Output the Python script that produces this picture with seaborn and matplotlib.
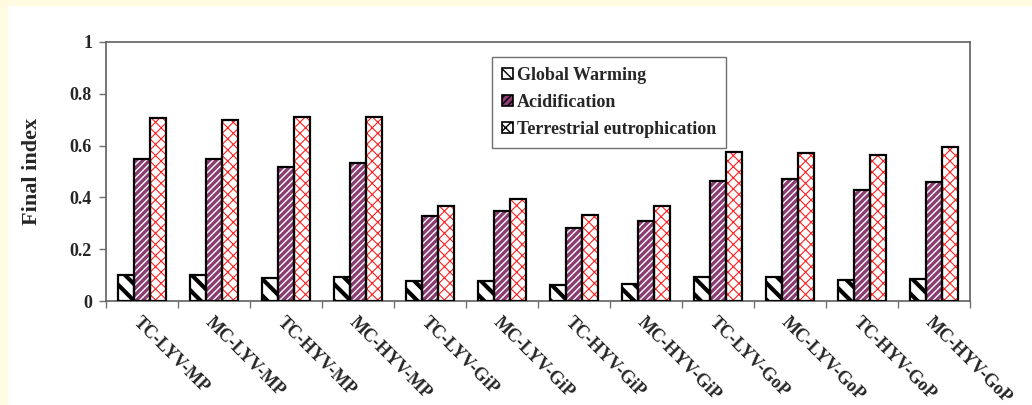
import numpy as np
import pandas as pd
import matplotlib
matplotlib.use("Agg")
import matplotlib.pyplot as plt
from matplotlib.patches import Patch, Rectangle
import seaborn as sns

# Chart data
scenarios = ["TC-LYV-MP", "MC-LYV-MP", "TC-HYV-MP", "MC-HYV-MP",
             "TC-LYV-GiP", "MC-LYV-GiP", "TC-HYV-GiP", "MC-HYV-GiP",
             "TC-LYV-GoP", "MC-LYV-GoP", "TC-HYV-GoP", "MC-HYV-GoP"]
series = ["Global Warming", "Acidification", "Terrestrial eutrophication"]
global_warming = [0.102, 0.102, 0.090, 0.094, 0.076, 0.078, 0.062, 0.066, 0.094, 0.094, 0.081, 0.085]
acidification = [0.547, 0.547, 0.519, 0.532, 0.328, 0.349, 0.282, 0.310, 0.465, 0.470, 0.429, 0.458]
eutrophication = [0.707, 0.699, 0.709, 0.712, 0.368, 0.392, 0.333, 0.367, 0.577, 0.570, 0.564, 0.593]
y_ticks = [0, 0.2, 0.4, 0.6, 0.8, 1]
y_tick_labels = ["0", "0.2", "0.4", "0.6", "0.8", "1"]

df = pd.DataFrame({
    "Scenario": scenarios * 3,
    "Category": [series[0]] * 12 + [series[1]] * 12 + [series[2]] * 12,
    "Value": global_warming + acidification + eutrophication,
})

# look of each series: face, hatch colour, hatch, hatch width
styles = {
    "Global Warming": ("white", "black", "\\\\", 3.0),
    "Acidification": ("#8b3c72", "white", "/////", 1.0),
    "Terrestrial eutrophication": ("white", "#ff2020", "xxx", 0.8),
}

sns.set_style("white")
plt.rcParams["font.family"] = ["Liberation Serif", "DejaVu Serif"]

fig = plt.figure(figsize=(10.32, 4.05), dpi=100)
fig.patch.set_facecolor("#fffbe0")
fig.patches.append(Rectangle((8 / 1032, 0), 1, 1 - 6 / 405, transform=fig.transFigure,
                             facecolor="white", edgecolor="none", zorder=-5))

ax = fig.add_axes([106 / 1032, 1 - 301 / 405, (970 - 106) / 1032, (301 - 42) / 405])
ax.set_zorder(1)
ax.set_facecolor("white")

W = 0.667
# hatched fill layer
sns.barplot(data=df, x="Scenario", y="Value", hue="Category", order=scenarios,
            hue_order=series, width=W, errorbar=None, ax=ax, legend=False,
            linewidth=0, zorder=2)
bars = [p for p in ax.patches if isinstance(p, Rectangle)]
for k, p in enumerate(bars):
    face, hcol, hatch, hlw = styles[series[k // len(scenarios)]]
    p.set_facecolor(face)
    p.set_edgecolor(hcol)
    p.set_hatch(hatch)
    p.set_linewidth(0)
    if hasattr(p, "set_hatch_linewidth"):
        p.set_hatch_linewidth(hlw)

# black outline layer
sns.barplot(data=df, x="Scenario", y="Value", hue="Category", order=scenarios,
            hue_order=series, width=W, errorbar=None, ax=ax, legend=False,
            fill=False, linewidth=1.6, edgecolor="black", zorder=3)
for p in ax.patches[len(bars):]:
    p.set_facecolor("none")
    p.set_edgecolor("black")
    p.set_linewidth(1.6)

ax.set_ylim(0, 1)
ax.set_xlim(-0.5, len(scenarios) - 0.5)
ax.set_yticks(y_ticks)
ax.set_yticklabels(y_tick_labels, fontsize=13, fontweight="bold")
ax.set_xticks(np.arange(len(scenarios) + 1) - 0.5)
ax.set_xticklabels([])
ax.set_xticks(np.arange(len(scenarios)), minor=True)
ax.set_xticklabels(scenarios, minor=True, rotation=-45, ha="left", va="top",
                   rotation_mode="anchor", fontsize=13, fontweight="bold")
ax.tick_params(axis="x", which="major", direction="out", length=5, color="#707070", width=1, bottom=True)
ax.tick_params(axis="x", which="minor", length=0, pad=9, bottom=True)
ax.tick_params(axis="y", direction="out", length=5, color="#707070", width=1, pad=5, left=True)
ax.set_xlabel("")
ax.set_ylabel("Final index", fontsize=16, fontweight="bold", labelpad=20)
for s in ax.spines.values():
    s.set_color("#606060")
    s.set_linewidth(1.2)
    s.set_visible(True)

handles = []
for name in series:
    face, hcol, hatch, hlw = styles[name]
    h = Patch(facecolor=face, edgecolor="black", hatch=hatch, linewidth=1.2)
    handles.append(h)
leg = ax.legend(handles, series, loc="upper left", bbox_to_anchor=((492 - 106) / 864, 1 - (57 - 42) / 259),
                frameon=True, fancybox=False, edgecolor="#707070", framealpha=1,
                prop={"size": 13, "weight": "bold"}, handlelength=0.6, handleheight=0.6,
                handletextpad=0.25, labelspacing=0.55, borderpad=0.55, borderaxespad=0)
leg.get_frame().set_linewidth(1.0)

fig.savefig("out.png", dpi=100, facecolor=fig.get_facecolor())
